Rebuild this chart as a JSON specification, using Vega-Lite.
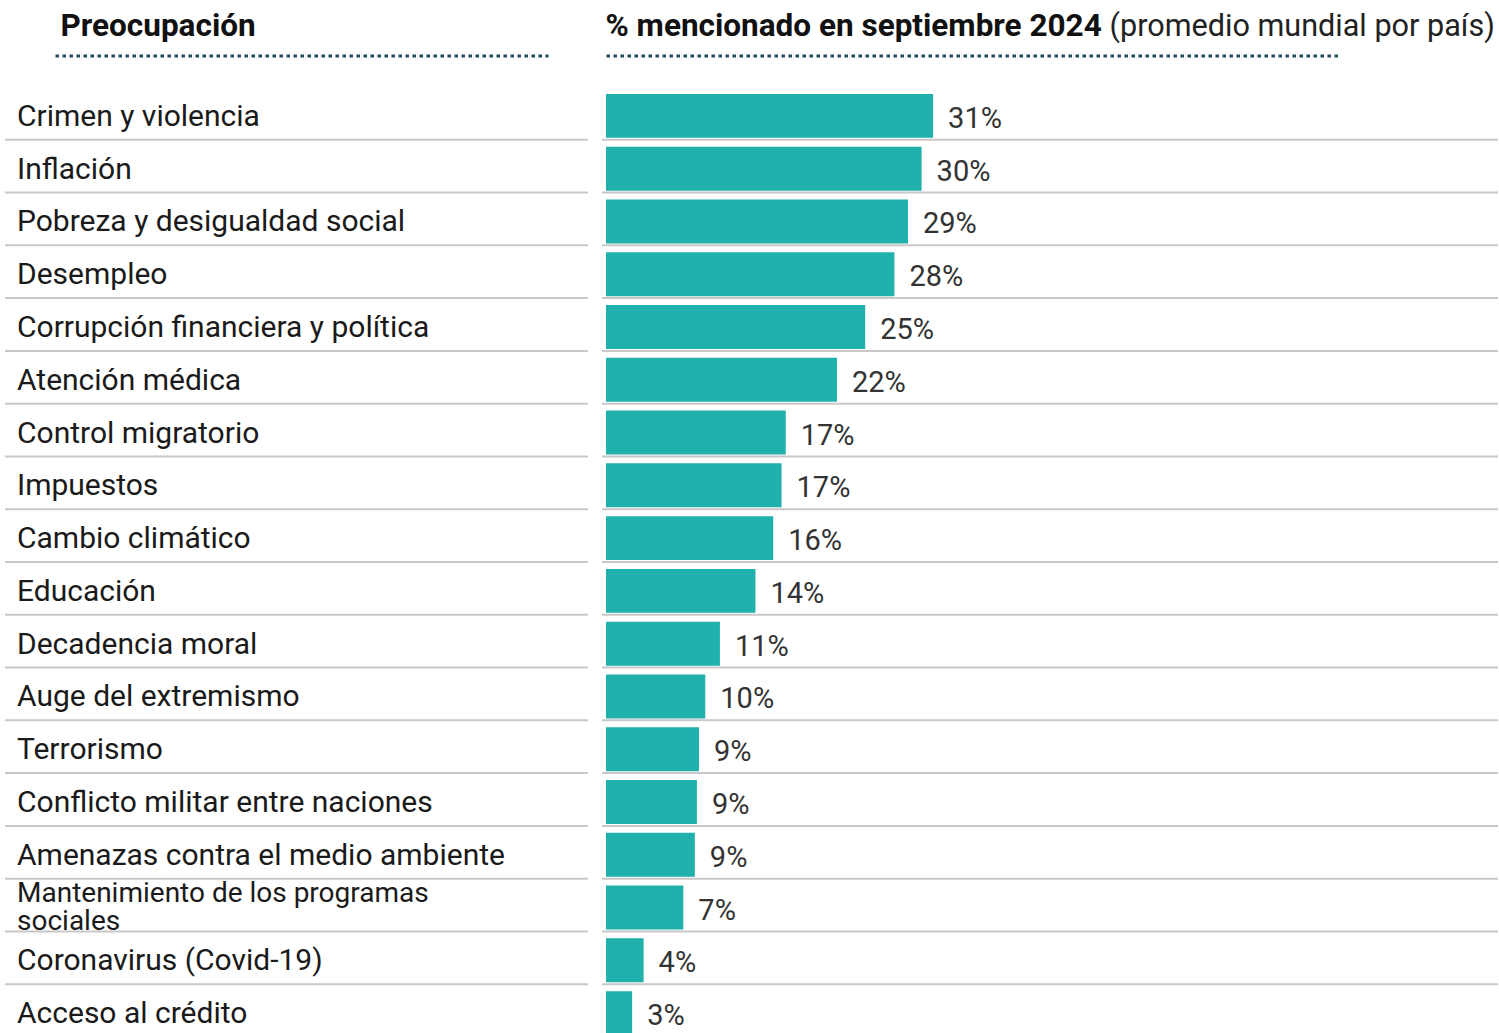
{
  "$schema": "https://vega.github.io/schema/vega-lite/v6.json",
  "background": "white",
  "padding": {"left": 4, "top": 10, "right": 0, "bottom": 0},
  "config": {"view": {"stroke": null}, "font": "Roboto", "concat": {"spacing": 12}},
  "data": {"values": [
    {"preocupacion": "Crimen y violencia", "pct": 31.3, "etiqueta": "31%"},
    {"preocupacion": "Inflación", "pct": 30.2, "etiqueta": "30%"},
    {"preocupacion": "Pobreza y desigualdad social", "pct": 28.9, "etiqueta": "29%"},
    {"preocupacion": "Desempleo", "pct": 27.6, "etiqueta": "28%"},
    {"preocupacion": "Corrupción financiera y política", "pct": 24.8, "etiqueta": "25%"},
    {"preocupacion": "Atención médica", "pct": 22.1, "etiqueta": "22%"},
    {"preocupacion": "Control migratorio", "pct": 17.2, "etiqueta": "17%"},
    {"preocupacion": "Impuestos", "pct": 16.8, "etiqueta": "17%"},
    {"preocupacion": "Cambio climático", "pct": 16.0, "etiqueta": "16%"},
    {"preocupacion": "Educación", "pct": 14.3, "etiqueta": "14%"},
    {"preocupacion": "Decadencia moral", "pct": 10.9, "etiqueta": "11%"},
    {"preocupacion": "Auge del extremismo", "pct": 9.5, "etiqueta": "10%"},
    {"preocupacion": "Terrorismo", "pct": 8.9, "etiqueta": "9%"},
    {"preocupacion": "Conflicto militar entre naciones", "pct": 8.7, "etiqueta": "9%"},
    {"preocupacion": "Amenazas contra el medio ambiente", "pct": 8.5, "etiqueta": "9%"},
    {"preocupacion": "Mantenimiento de los programas\nsociales", "pct": 7.4, "etiqueta": "7%"},
    {"preocupacion": "Coronavirus (Covid-19)", "pct": 3.6, "etiqueta": "4%"},
    {"preocupacion": "Acceso al crédito", "pct": 2.5, "etiqueta": "3%"}
  ]},
  "hconcat": [
    {
      "width": 583,
      "height": 950,
      "layer": [
        {
          "mark": {"type": "rule", "color": "#c8c8c8", "strokeWidth": 2},
          "encoding": {
            "y": {"field": "preocupacion", "type": "nominal", "sort": null, "bandPosition": 1,
                  "scale": {"paddingInner": 0, "paddingOuter": 0}, "axis": null}
          }
        },
        {
          "transform": [{"filter": "indexof(datum.preocupacion, '\\n') < 0"}],
          "mark": {"type": "text", "align": "left", "baseline": "alphabetic", "dx": -38, "dy": 12.5,
                   "fontSize": 30, "color": "#1a1a1a"},
          "encoding": {
            "x": {"datum": 0, "type": "quantitative",
                  "scale": {"domain": [0, 1], "range": [50, 543], "nice": false, "zero": false},
                  "axis": {"orient": "top", "offset": 31.6, "domain": true, "domainColor": "#1c4a5e",
                           "domainWidth": 3, "domainDash": [3.5, 3.5], "domainCap": "butt",
                           "ticks": false, "labels": false, "grid": false,
                           "title": "Preocupación", "titleFontSize": 31.5, "titleFontWeight": "bold",
                           "titleColor": "#111111", "titleX": 55, "titleY": -19.7,
                           "titleAlign": "left", "titleBaseline": "alphabetic", "titleAnchor": "start"}},
            "y": {"field": "preocupacion", "type": "nominal", "sort": null,
                  "scale": {"paddingInner": 0, "paddingOuter": 0}, "axis": null},
            "text": {"field": "preocupacion"}
          }
        },
        {
          "transform": [{"filter": "indexof(datum.preocupacion, '\\n') >= 0"}],
          "mark": {"type": "text", "align": "left", "baseline": "alphabetic", "dx": -38, "dy": -3.5,
                   "fontSize": 28, "color": "#1a1a1a", "lineBreak": "\n", "lineHeight": 28.5},
          "encoding": {
            "x": {"datum": 0, "type": "quantitative",
                  "scale": {"domain": [0, 1], "range": [50, 543], "nice": false, "zero": false},
                  "axis": {"orient": "top", "offset": 31.6, "domain": true, "domainColor": "#1c4a5e",
                           "domainWidth": 3, "domainDash": [3.5, 3.5], "domainCap": "butt",
                           "ticks": false, "labels": false, "grid": false,
                           "title": "Preocupación", "titleFontSize": 31.5, "titleFontWeight": "bold",
                           "titleColor": "#111111", "titleX": 55, "titleY": -19.7,
                           "titleAlign": "left", "titleBaseline": "alphabetic", "titleAnchor": "start"}},
            "y": {"field": "preocupacion", "type": "nominal", "sort": null,
                  "scale": {"paddingInner": 0, "paddingOuter": 0}, "axis": null},
            "text": {"field": "preocupacion"}
          }
        }
      ]
    },
    {
      "width": 896,
      "height": 950,
      "layer": [
        {
          "mark": {"type": "rule", "color": "#c8c8c8", "strokeWidth": 2},
          "encoding": {
            "y": {"field": "preocupacion", "type": "nominal", "sort": null, "bandPosition": 1,
                  "scale": {"paddingInner": 0, "paddingOuter": 0},
                  "axis": {"orient": "left", "labels": false, "ticks": false, "domain": false, "grid": false,
                           "title": "(promedio mundial por país)", "titleFontSize": 30.6, "titleFontWeight": "normal",
                           "titleColor": "#222222", "titleAngle": 0, "titleX": 507, "titleY": -51.3,
                           "titleAlign": "left", "titleBaseline": "alphabetic"}}
          }
        },
        {
          "mark": {"type": "bar", "color": "#20b1ad", "height": {"band": 0.833}, "yOffset": 2.5},
          "encoding": {
            "x": {"field": "pct", "type": "quantitative",
                  "scale": {"domain": [0, 70.33], "range": [4, 739], "nice": false},
                  "axis": {"orient": "top", "offset": 31.6, "domain": true, "domainColor": "#1c4a5e",
                           "domainWidth": 3, "domainDash": [3.5, 3.5], "domainCap": "butt",
                           "ticks": false, "labels": false, "grid": false,
                           "title": "% mencionado en septiembre 2024", "titleFontSize": 31.5, "titleFontWeight": "bold",
                           "titleColor": "#111111", "titleX": 3, "titleY": -19.7,
                           "titleAlign": "left", "titleBaseline": "alphabetic", "titleAnchor": "start"}},
            "y": {"field": "preocupacion", "type": "nominal", "sort": null,
                  "scale": {"paddingInner": 0, "paddingOuter": 0},
                  "axis": {"orient": "left", "labels": false, "ticks": false, "domain": false, "grid": false,
                           "title": "(promedio mundial por país)", "titleFontSize": 30.6, "titleFontWeight": "normal",
                           "titleColor": "#222222", "titleAngle": 0, "titleX": 507, "titleY": -51.3,
                           "titleAlign": "left", "titleBaseline": "alphabetic"}}
          }
        },
        {
          "mark": {"type": "text", "align": "left", "baseline": "alphabetic", "dx": 15, "dy": 14.5,
                   "fontSize": 29, "color": "#333333"},
          "encoding": {
            "x": {"field": "pct", "type": "quantitative",
                  "scale": {"domain": [0, 70.33], "range": [4, 739], "nice": false},
                  "axis": {"orient": "top", "offset": 31.6, "domain": true, "domainColor": "#1c4a5e",
                           "domainWidth": 3, "domainDash": [3.5, 3.5], "domainCap": "butt",
                           "ticks": false, "labels": false, "grid": false,
                           "title": "% mencionado en septiembre 2024", "titleFontSize": 31.5, "titleFontWeight": "bold",
                           "titleColor": "#111111", "titleX": 3, "titleY": -19.7,
                           "titleAlign": "left", "titleBaseline": "alphabetic", "titleAnchor": "start"}},
            "y": {"field": "preocupacion", "type": "nominal", "sort": null,
                  "scale": {"paddingInner": 0, "paddingOuter": 0},
                  "axis": {"orient": "left", "labels": false, "ticks": false, "domain": false, "grid": false,
                           "title": "(promedio mundial por país)", "titleFontSize": 30.6, "titleFontWeight": "normal",
                           "titleColor": "#222222", "titleAngle": 0, "titleX": 507, "titleY": -51.3,
                           "titleAlign": "left", "titleBaseline": "alphabetic"}},
            "text": {"field": "etiqueta"}
          }
        }
      ]
    }
  ]
}
